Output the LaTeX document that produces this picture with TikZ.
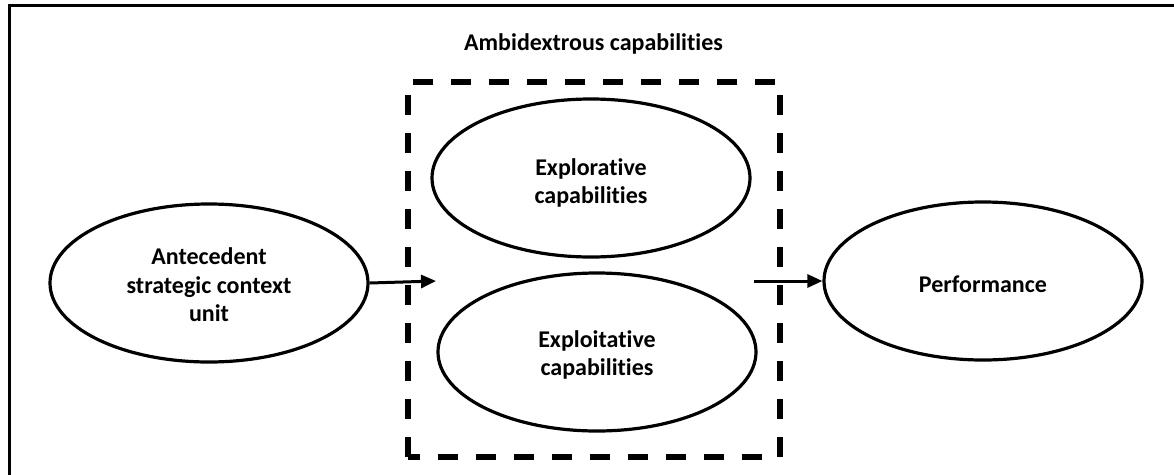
\documentclass[tikz,border=0pt]{standalone}
\usepackage{fontspec}
\setmainfont{Carlito}[Ligatures={NoCommon}]
\usetikzlibrary{shapes.geometric,arrows.meta}
\tikzset{
  oval/.style={ellipse, draw, line width=3.2pt, inner sep=0pt, minimum width=318pt, minimum height=158pt},
  ovaltext/.style={align=center, inner sep=0pt, font=\bfseries\fontsize{24}{28.5}\selectfont},
  link/.style={line width=3pt, -{Triangle[length=15pt,width=13pt]}},
  frameline/.style={line width=3.8pt},
  dashbox/.style={line width=6pt, dash pattern=on 20pt off 18pt},
  titletext/.style={font=\bfseries\fontsize{24}{28}\selectfont, anchor=base, inner sep=0pt}
}
\begin{document}
\begin{tikzpicture}[x=1pt,y=-1pt]
\useasboundingbox (0,0) rectangle (1174,474);
\fill[white] (0,0) rectangle (1174,474);
% outer frame (top and left edges visible)
\draw[frameline] (9.5,480) -- (9.5,5.5) -- (1180,5.5);
% title
\node[titletext] (title) at (593.5,50) {Ambidextrous capabilities};
% dashed grouping box
\draw[dashbox] (408,457) -- (408,82) -- (780,82) -- (780,457) -- cycle;
% ovals
\node[oval] (ante) at (209,283) {};
\node[oval] (explor) at (591,178) {};
\node[oval] (exploit) at (597,352) {};
\node[oval] (perf) at (983,281) {};
% oval texts
\node[ovaltext] (anteT) at ([yshift=-2pt]ante.center) {Antecedent\\strategic context\\unit};
\node[ovaltext] (explorT) at ([yshift=-5pt]explor.center) {Explorative\\capabilities};
\node[ovaltext] (exploitT) at ([yshift=-3pt]exploit.center) {Exploitative\\capabilities};
\node[ovaltext] (perfT) at ([yshift=-3pt]perf.center) {Performance};
% connectors
\coordinate (inbox) at (436,281);
\coordinate (outbox) at (754,281);
\draw[link] (ante.east) -- (inbox);
\draw[link] (outbox) -- (perf.west);
\end{tikzpicture}
\end{document}
